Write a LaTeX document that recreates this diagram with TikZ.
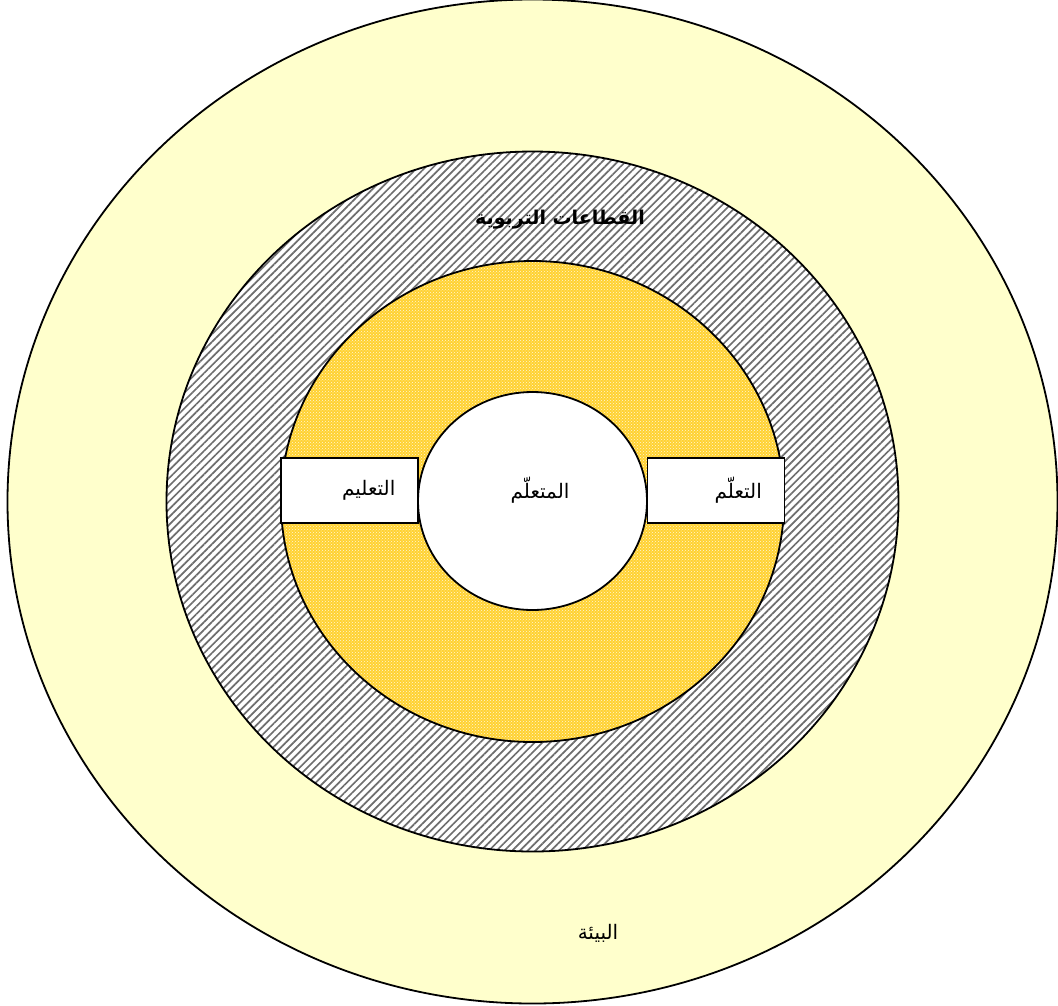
\documentclass[tikz,border=0pt]{standalone}
\usepackage{fontspec}
\usepackage{tikz}
\usetikzlibrary{patterns,patterns.meta,positioning}
\usepackage{xcolor}
\TeXXeTstate=1
\newfontfamily\arabicfont[Script=Arabic]{DejaVu Sans}
\definecolor{envyellow}{RGB}{255,255,204}
\definecolor{ringgold}{RGB}{255,210,50}
\definecolor{hatchgray}{RGB}{110,110,110}

\tikzset{
  ring/.style={draw=black, line width=1.8pt},
  labelbox/.style={draw=black, fill=white, line width=1.8pt, minimum width=137pt, minimum height=65pt},
  ringlabel/.style={font=\fontsize{20}{24}\selectfont\arabicfont}
}

\begin{document}
\begin{tikzpicture}[x=1pt,y=-1pt]
\useasboundingbox (0,0) rectangle (1058,1005);
% rings, outside in
\fill[envyellow] (532.5,501.5) ellipse [x radius=525pt, y radius=502pt];
\draw[ring] (532.5,501.5) ellipse [x radius=525pt, y radius=502pt];
\fill[white] (532.5,501.5) ellipse [x radius=366pt, y radius=350pt];
\fill[pattern={Lines[angle=45,distance=5.5pt,line width=1.7pt]}, pattern color=hatchgray] (532.5,501.5) ellipse [x radius=366pt, y radius=350pt];
\draw[ring] (532.5,501.5) ellipse [x radius=366pt, y radius=350pt];
\fill[ringgold] (532.5,501.5) ellipse [x radius=251.5pt, y radius=240.5pt];
\fill[pattern=crosshatch dots, pattern color=white!80!ringgold] (532.5,501.5) ellipse [x radius=251.5pt, y radius=240.5pt];
\draw[ring] (532.5,501.5) ellipse [x radius=251.5pt, y radius=240.5pt];
\draw[ring, fill=white] (532.5,501) ellipse [x radius=114.5pt, y radius=109pt];

% boxes
\node[labelbox] (teaching) at (349.5,490.5) {};
\node[labelbox] (learning) at (716,490.5) {};
\node[ringlabel, anchor=east] (teachtext) at ([xshift=-20pt]teaching.east) {\beginR التعليم\endR};
\node[ringlabel, anchor=east] (learntext) at ([xshift=-20pt]learning.east) {\beginR التعلّم\endR};

% labels
\node[ringlabel] (learner) at (540,490) {\beginR المتعلّم\endR};
\node[ringlabel, font=\fontsize{19}{22}\selectfont\arabicfont\bfseries] (sectors) at (560,220) {\beginR القطاعات التربوية\endR};
\node[ringlabel] (environment) at (598,933) {\beginR البيئة\endR};
\end{tikzpicture}
\end{document}
